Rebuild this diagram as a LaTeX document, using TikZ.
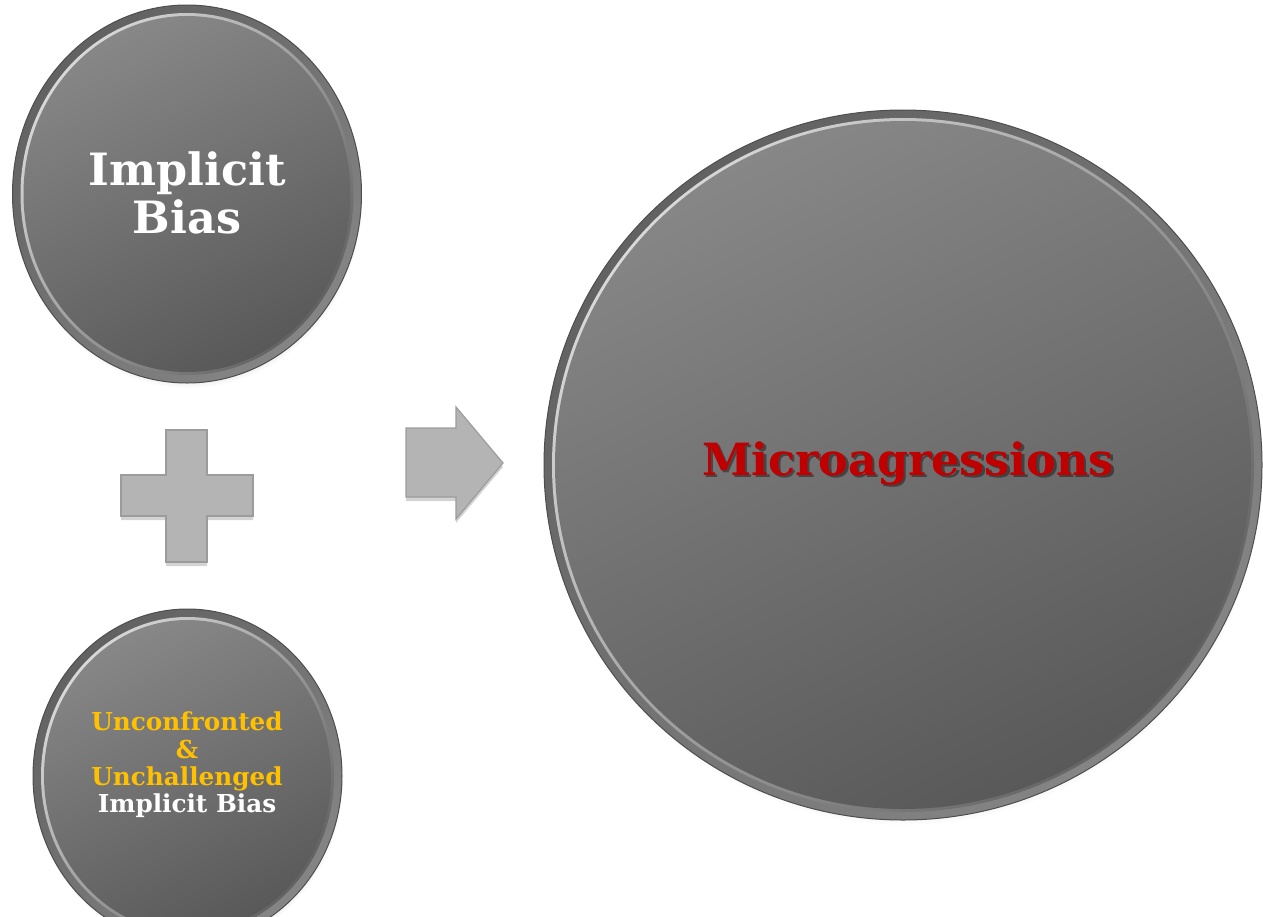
\documentclass[tikz,border=0pt]{standalone}
\usepackage{fontspec}
\setmainfont{DejaVu Serif}
\usetikzlibrary{shadows}
\definecolor{rimc}{HTML}{6A6A6A}
\definecolor{rimline}{HTML}{4E4E4E}
\definecolor{facetop}{HTML}{878787}
\definecolor{facebot}{HTML}{595959}
\definecolor{shapegray}{HTML}{B4B4B4}
\definecolor{shapeline}{HTML}{9C9C9C}
\definecolor{gold}{HTML}{FFC000}
\definecolor{darkred}{HTML}{C00000}
\tikzset{
  rim/.style={top color=rimc!92!black, bottom color=rimc!82!white, shading angle=45, draw=rimline, line width=1pt,
     circular drop shadow={shadow xshift=1pt, shadow yshift=-5pt, opacity=0.45, shadow scale=1.0}},
  hl/.style={top color=white!85!black, middle color=rimc, bottom color=rimc!92!black, shading angle=50},
  face/.style={top color=facetop, bottom color=facebot, shading angle=25},
  flat/.style={fill=shapegray, draw=shapeline, line width=1.2pt,
     drop shadow={shadow xshift=0pt, shadow yshift=-4pt, opacity=0.35}},
  lbl/.style={align=center, inner sep=0pt, font=\bfseries}
}
\newcommand\buttonshape[4]{%
  \begin{scope}[shift={(#1,#2)}]
    \path[rim] (0,0) ellipse [x radius=#3pt, y radius=#4pt];
    \shade[hl] (0,0) ellipse [x radius=#3pt-8pt, y radius=#4pt-8pt];
    \shade[face] (0,0) ellipse [x radius=#3pt-11pt, y radius=#4pt-11pt];
  \end{scope}}
\begin{document}
\begin{tikzpicture}[x=1pt,y=-1pt]
\useasboundingbox (0,0) rectangle (1263,916);
\clip (0,0) rectangle (1263,916);
% circles
\buttonshape{187}{194}{174.5}{189}
\buttonshape{187.5}{776}{154.5}{167}
\buttonshape{903}{465}{359}{355}
% plus
\path[flat] (166,430) -- (207,430) -- (207,475) -- (253,475) -- (253,516) -- (207,516)
   -- (207,562) -- (166,562) -- (166,516) -- (121,516) -- (121,475) -- (166,475) -- cycle;
% arrow
\path[flat] (406,428) -- (456,428) -- (456,407) -- (503,463) -- (456,519) -- (456,497) -- (406,497) -- cycle;
% texts
\node[lbl, text=white, font=\bfseries\fontsize{44.5}{48}\selectfont] (bias) at (187,193) {Implicit\\Bias};
\node[lbl, font=\bfseries\fontsize{24.7}{27.3}\selectfont] (unc) at (187,765)
  {\textcolor{gold}{Unconfronted}\\\textcolor{gold}{\&}\\\textcolor{gold}{Unchallenged}\\\textcolor{white}{Implicit Bias}};
\node[lbl, text=black, opacity=0.4, font=\bfseries\fontsize{44.4}{48}\selectfont] (microsh) at (910.5,466) {Microagressions};
\node[lbl, text=darkred, font=\bfseries\fontsize{44.4}{48}\selectfont] (micro) at (908,463.5) {Microagressions};
\end{tikzpicture}
\end{document}
